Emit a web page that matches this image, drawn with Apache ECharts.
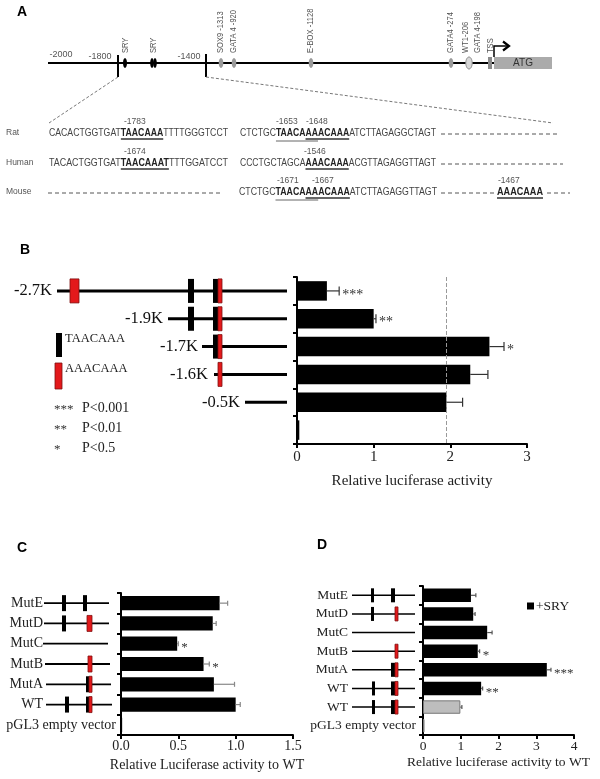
<!DOCTYPE html>
<html><head><meta charset="utf-8">
<script src="https://cdn.jsdelivr.net/npm/echarts@6/dist/echarts.min.js"></script>
<style>html,body{margin:0;padding:0;background:#fff}#c{width:600px;height:779px}</style>
</head><body><div id="c"></div>
<script>
// ---------------- DATA ----------------
// Panel B: deletion constructs
const bCats = ['-2.7K', '-1.9K', '-1.7K', '-1.6K', '-0.5K', ''];
const bValues = [0.39, 1.00, 2.51, 2.26, 1.95, 0.03];
const bErrors = [0.16, 0.03, 0.19, 0.23, 0.21, 0.00];
const bSig = ['***', '**', '*', '', '', ''];
const bRefLine = 1.95;
const bLegendMotifs = ['TAACAAA', 'AAACAAA'];
const bPvalues = [['***', 'P<0.001'], ['**', 'P<0.01'], ['*', 'P<0.5']];

// Panel C: mutant constructs
const cCats = ['MutE', 'MutD', 'MutC', 'MutB', 'MutA', 'WT', 'pGL3 empty vector'];
const cValues = [0.86, 0.80, 0.49, 0.72, 0.81, 1.00, 0.01];
const cErrors = [0.07, 0.03, 0.01, 0.05, 0.18, 0.04, 0.00];
const cSig = ['', '', '*', '*', '', '', ''];

// Panel D: mutant constructs +SRY
const dCats = ['MutE', 'MutD', 'MutC', 'MutB', 'MutA', 'WT', 'WT', 'pGL3 empty vector'];
const dValues = [1.27, 1.33, 1.70, 1.45, 3.28, 1.54, 0.99, 0.04];
const dErrors = [0.13, 0.05, 0.13, 0.05, 0.11, 0.04, 0.04, 0.00];
const dSig = ['', '', '', '*', '***', '**', '', ''];
const dWithSRY = [true, true, true, true, true, true, false, false];

// Panel A: promoter map
const aScaleLabels = ['-2000', '-1800', '-1400'];
const aSites = ['SRY', 'SRY', 'SOX9 -1313', 'GATA 4 -920', 'E-BOX -1128', 'GATA4 -274', 'WT1-206', 'GATA 4-198', 'TSS'];
const seqSpecies = ['Rat', 'Human', 'Mouse'];
const seqPositions = [['-1783', '-1653', '-1648'], ['-1674', '-1546'], ['-1671', '-1667', '-1467']];

// ---------------- LAYOUT / STYLE ----------------
const SERIF = "'Liberation Serif','Times New Roman',serif";
const SANS = "'Liberation Sans',Arial,sans-serif";
const RED = '#e3191b', RED_D = '#7d1010';

const chart = echarts.init(document.getElementById('c'), null, {renderer: 'canvas', width: 600, height: 779});

function valAxis(gi, min, max, interval, fs, name, gap, fmt, margin) {
  return {type: 'value', gridIndex: gi, min, max, interval,
    splitLine: {show: false},
    axisLine: {show: true, lineStyle: {color: '#000', width: 2}},
    axisTick: {show: true, length: 4, lineStyle: {color: '#000', width: 2}},
    axisLabel: {fontFamily: SERIF, fontSize: fs, color: '#222', margin: margin, formatter: fmt},
    name, nameLocation: 'middle', nameGap: gap,
    nameTextStyle: {fontFamily: SERIF, fontSize: fs, color: '#222'}};
}
function catAxis(gi, cats, label) {
  return {type: 'category', gridIndex: gi, data: cats, inverse: true,
    axisLine: {show: true, lineStyle: {color: '#000', width: 2}},
    axisTick: {show: true, length: 4, lineStyle: {color: '#000', width: 2}},
    axisLabel: label};
}
function richLabel(fs, padLong, padShort) {
  return {show: true, interval: 0, margin: 4, color: '#222',
    formatter: v => v.length > 8 ? '{p|' + v + '}' : '{a|' + v + '}',
    rich: {a: {fontFamily: SERIF, fontSize: fs, color: '#222', padding: [0, padLong, 0, 0]},
           p: {fontFamily: SERIF, fontSize: fs, color: '#222', padding: [0, padShort, 0, 0]}}};
}
function errSeries(gi, vals, errs, sig, color, capH, fs) {
  return {type: 'custom', xAxisIndex: gi, yAxisIndex: gi, z: 5, silent: true,
    data: vals.map((v, i) => [i, v, v + errs[i]]),
    encode: {x: [1, 2], y: 0},
    renderItem(params, api) {
      const i = api.value(0);
      const p0 = api.coord([api.value(1), i]);
      const p1 = api.coord([api.value(2), i]);
      const ch = [];
      if (api.value(2) > api.value(1)) {
        ch.push({type: 'line', shape: {x1: p0[0], y1: p0[1], x2: p1[0], y2: p1[1]}, style: {stroke: color, lineWidth: 1.2}});
        ch.push({type: 'line', shape: {x1: p1[0], y1: p1[1] - capH / 2, x2: p1[0], y2: p1[1] + capH / 2}, style: {stroke: color, lineWidth: 1.2}});
      }
      if (sig[i]) ch.push({type: 'text', x: p1[0] + 3, y: p1[1] + 4,
        style: {text: sig[i], fill: '#333', font: fs + 'px ' + SERIF, textAlign: 'left', textVerticalAlign: 'middle', align: 'left', verticalAlign: 'middle'}});
      return {type: 'group', children: ch};
    }};
}

const option = {
  animation: false,
  backgroundColor: '#fff',
  grid: [
    {left: 297, top: 277, width: 230, height: 167},
    {left: 121, top: 593, width: 172, height: 142},
    {left: 423, top: 586, width: 151, height: 149}
  ],
  legend: {data: ['+SRY'], left: 522, top: 594, icon: 'rect', itemWidth: 7, itemHeight: 7,
    selectedMode: false, textStyle: {fontFamily: SERIF, fontSize: 13.5, color: '#222', padding: [0, 0, 0, -3]}},
  xAxis: [
    valAxis(0, 0, 3, 1, 15, 'Relative luciferase activity', 30, v => String(v), 6),
    valAxis(1, 0, 1.5, 0.5, 14, 'Relative Luciferase activity to WT', 23, v => v.toFixed(1), 4),
    valAxis(2, 0, 4, 1, 13.5, 'Relative luciferase activity to WT', 20, v => String(v), 4)
  ],
  yAxis: [
    catAxis(0, bCats, {show: false}),
    catAxis(1, cCats, richLabel(14, 74, 1)),
    catAxis(2, dCats, richLabel(13.5, 71, 3))
  ],
  series: [
    {name: 'B', type: 'bar', xAxisIndex: 0, yAxisIndex: 0, data: bValues, barCategoryGap: '30%',
     itemStyle: {color: '#000'},
     markLine: {silent: true, symbol: 'none', label: {show: false},
       lineStyle: {color: '#999', type: 'dashed', width: 1}, data: [{xAxis: bRefLine}]}},
    errSeries(0, bValues, bErrors, bSig, '#333', 9, 14),
    {name: 'C', type: 'bar', xAxisIndex: 1, yAxisIndex: 1, data: cValues, barCategoryGap: '30%',
     itemStyle: {color: '#000'}},
    errSeries(1, cValues, cErrors, cSig, '#888', 5, 13),
    {name: '+SRY', type: 'bar', xAxisIndex: 2, yAxisIndex: 2, barCategoryGap: '28%',
     itemStyle: {color: '#000'},
     data: dValues.map((v, i) => dWithSRY[i] ? {value: v}
       : {value: v, itemStyle: {color: '#bdbdbd', borderColor: '#777', borderWidth: 1}})},
    errSeries(2, dValues, dErrors, dSig, '#555', 4, 13)
  ]
};
chart.setOption(option);

// ---------------- GRAPHICS ----------------
const G = [];
function txt(x, y, text, font, fill, align, vAlign, extra) {
  G.push(Object.assign({type: 'text', x, y, silent: true,
    style: {text, font, fill: fill || '#222', textAlign: align || 'left', align: align || 'left',
      textVerticalAlign: vAlign || 'middle', verticalAlign: vAlign || 'middle'}}, extra || {}));
}
function line(x1, y1, x2, y2, stroke, w, dash) {
  G.push({type: 'line', silent: true, shape: {x1, y1, x2, y2},
    style: {stroke, lineWidth: w, lineDash: dash || null}});
}
function rect(x, y, w, h, fill, stroke) {
  G.push({type: 'rect', silent: true, shape: {x, y, width: w, height: h},
    style: {fill, stroke: stroke || null, lineWidth: stroke ? 0.8 : 0}});
}
function ellipse(cx, cy, rx, ry, fill, stroke) {
  G.push({type: 'ellipse', silent: true, shape: {cx, cy, rx, ry},
    style: {fill, stroke: stroke || null, lineWidth: 1}});
}

// panel letters
const LET = 'bold 14px ' + SANS;
txt(17, 12, 'A', LET, '#000');
txt(20, 250, 'B', LET, '#000');
txt(17, 548, 'C', LET, '#000');
txt(317, 545, 'D', LET, '#000');

// ---- Panel A: promoter map ----
const AY = 63;
line(48, AY, 494, AY, '#000', 2);
const aScaleX = [61, 100, 189], aScaleY = [55, 57, 57];
aScaleLabels.forEach((t, i) => txt(aScaleX[i], aScaleY[i], t, '9px ' + SANS, '#555', 'center'));
line(118, 55, 118, 77, '#000', 2);
line(206, 54, 206, 77, '#000', 2);
// site marks
ellipse(125, AY, 2, 5, '#000');
ellipse(152, AY, 1.8, 5, '#000');
ellipse(155, AY, 1.8, 5, '#000');
[221, 234, 311, 451].forEach(x => ellipse(x, AY, 2.3, 5, '#9a9a9a'));
ellipse(469, AY, 3.2, 6, '#d8d8d8', '#8a8a8a');
rect(488, 57, 4, 12, '#8a8a8a');
rect(494, 57, 58, 12, '#ababab');
txt(523, 63.5, 'ATG', '10px ' + SANS, '#333', 'center');
const aSiteX = [126, 154, 221, 234, 311, 451, 466, 478, 491];
aSites.forEach((t, i) => txt(aSiteX[i], 53, t, '9px ' + SANS, '#555', 'left', 'middle',
  {rotation: Math.PI / 2, scaleX: 0.84}));
// TSS arrow
G.push({type: 'polyline', silent: true, shape: {points: [[494, 57], [494, 46], [508, 46]]}, style: {stroke: '#000', lineWidth: 1.5, fill: null}});
G.push({type: 'polyline', silent: true, shape: {points: [[503, 41.5], [509, 46], [503, 50.5]]}, style: {stroke: '#000', lineWidth: 2.2, fill: null}});
// zoom dashed lines
line(118, 77, 49, 123, '#777', 1, [3, 2]);
line(206, 77, 553, 123, '#777', 1, [3, 2]);

// ---- Sequences ----
const mctx = document.createElement('canvas').getContext('2d');
function tw(t, f) { mctx.font = f; return mctx.measureText(t).width; }
const SF = b => (b ? 'bold ' : '') + '10px ' + SANS;
function seqPart(x0, y, targetW, segs, uls) {
  const ws = segs.map(s => tw(s[0], SF(s[1])));
  const total = ws.reduce((a, b) => a + b, 0);
  const sc = targetW / total;
  const xs = [];
  let cx = x0;
  segs.forEach((s, i) => {
    xs.push(cx);
    G.push({type: 'text', x: cx, y, scaleX: sc, silent: true,
      style: {text: s[0], font: SF(s[1]), fill: s[1] ? '#222' : '#444', textAlign: 'left', align: 'left',
        textVerticalAlign: 'middle', verticalAlign: 'middle'}});
    cx += ws[i] * sc;
  });
  (uls || []).forEach(u => {
    const s = segs[u[0]], f = SF(s[1]);
    const a = xs[u[0]] + tw(s[0].slice(0, u[1]), f) * sc;
    const b = xs[u[0]] + tw(s[0].slice(0, u[2]), f) * sc;
    if (u[3]) line(a, y + 6, b, y + 6, '#333', 1.6);
    else line(a, y + 8, b, y + 8, '#666', 1);
  });
}
function dashes(x1, x2, y) { line(x1, y + 1, x2, y + 1, '#555', 1, [4, 3]); }
const seqY = [133, 163, 192];
seqSpecies.forEach((s, i) => txt(6, seqY[i], s, '8.5px ' + SANS, '#555'));
// Rat
seqPart(49, seqY[0], 179, [['CACACTGGTGAT', 0], ['TAACAAA', 1], ['TTTTGGGTCCT', 0]], [[1, 0, 7, true]]);
seqPart(240, seqY[0], 196, [['CTCTGC', 0], ['TAACAAAACAAA', 1], ['ATCTTAGAGGCTAGT', 0]], [[1, 0, 7, false], [1, 5, 12, true]]);
dashes(441, 559, seqY[0]);
// Human
seqPart(49, seqY[1], 179, [['TACACTGGTGAT', 0], ['TAACAAAT', 1], ['TTTGGATCCT', 0]], [[1, 0, 8, true]]);
seqPart(240, seqY[1], 196, [['CCCTGCTAGCA', 0], ['AAACAAA', 1], ['ACGTTAGAGGTTAGT', 0]], [[1, 0, 7, true]]);
dashes(441, 563, seqY[1]);
// Mouse
dashes(48, 222, seqY[2]);
seqPart(239, seqY[2], 198, [['CTCTGC', 0], ['TAACAAAACAAA', 1], ['ATCTTAGAGGTTAGT', 0]], [[1, 0, 7, false], [1, 5, 12, true]]);
dashes(441, 494, seqY[2]);
seqPart(497, seqY[2], 46, [['AAACAAA', 1]], [[0, 0, 7, true]]);
dashes(547, 570, seqY[2]);
// position labels
const posX = [[124, 276, 306], [124, 304], [277, 312, 498]];
seqPositions.forEach((row, r) => row.forEach((t, k) => txt(posX[r][k], seqY[r] - 11.5, t, '8.5px ' + SANS, '#555')));

// ---- Panel B: construct diagrams ----
function rowY(axisIdx, i) { return chart.convertToPixel({yAxisIndex: axisIdx}, i); }
function motifBoxes(boxes, y, h) {
  boxes.forEach(b => {
    if (b[0] === 'r') rect(b[1], y - h / 2, b[2] - b[1], h, RED, RED_D);
    else rect(b[1], y - h / 2, b[2] - b[1], h, '#000');
  });
}
const bLayout = [
  {lx: 52, x1: 57, boxes: [['r', 70, 79], ['k', 188, 194], ['k', 213, 218], ['r', 218, 222]]},
  {lx: 163, x1: 168, boxes: [['k', 188, 194], ['k', 213, 218], ['r', 218, 222]]},
  {lx: 198, x1: 202, boxes: [['k', 213, 218], ['r', 218, 222]]},
  {lx: 208, x1: 214, boxes: [['r', 218, 222]]},
  {lx: 240, x1: 245, boxes: []}
];
bLayout.forEach((L, i) => {
  const y = rowY(0, i);
  txt(L.lx, y, bCats[i], '16.5px ' + SERIF, '#111', 'right');
  line(L.x1, y, 287, y, '#000', 3);
  motifBoxes(L.boxes, y, 24);
});
// legend motifs
rect(56, 333, 6, 24, '#000');
txt(65, 339, bLegendMotifs[0], '12.5px ' + SERIF, '#222');
rect(55, 363, 7, 26, RED, RED_D);
txt(65, 369, bLegendMotifs[1], '12.5px ' + SERIF, '#222');
bPvalues.forEach((p, i) => {
  txt(54, 410 + i * 20, p[0], '13px ' + SERIF, '#333');
  txt(82, 408 + i * 20, p[1], '14px ' + SERIF, '#222');
});

// ---- Panel C diagrams ----
const cLayout = [
  {x1: 44, x2: 109, boxes: [['k', 62, 66], ['k', 83, 87]]},
  {x1: 44, x2: 109, boxes: [['k', 62, 66], ['r', 87, 92]]},
  {x1: 43, x2: 108, boxes: []},
  {x1: 45, x2: 110, boxes: [['r', 88, 92]]},
  {x1: 46, x2: 111, boxes: [['k', 86, 89], ['r', 89, 92]]},
  {x1: 46, x2: 112, boxes: [['k', 65, 69], ['k', 86, 89], ['r', 89, 92]]}
];
cLayout.forEach((L, i) => {
  const y = rowY(1, i);
  line(L.x1, y, L.x2, y, '#000', 1.8);
  motifBoxes(L.boxes, y, 16);
});
// ---- Panel D diagrams ----
const dLayout = [
  {boxes: [['k', 371, 374], ['k', 391, 395]]},
  {boxes: [['k', 371, 374], ['r', 395, 398]]},
  {boxes: []},
  {boxes: [['r', 395, 398]]},
  {boxes: [['k', 391, 395], ['r', 395, 398]]},
  {boxes: [['k', 372, 375], ['k', 391, 395], ['r', 395, 398]]},
  {boxes: [['k', 372, 375], ['k', 391, 395], ['r', 395, 398]]}
];
dLayout.forEach((L, i) => {
  const y = rowY(2, i);
  line(352, y, 415, y, '#000', 1.6);
  motifBoxes(L.boxes, y, 14);
});

chart.setOption({graphic: {elements: G}});
</script>
</body></html>
